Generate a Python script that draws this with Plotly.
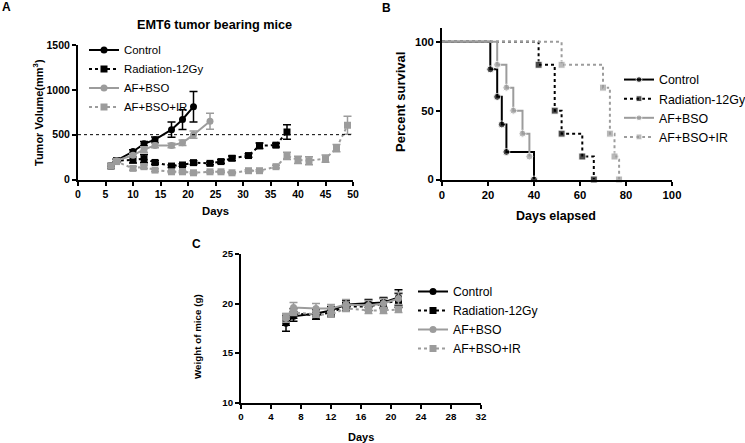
import plotly.graph_objects as go

W, H = 745, 443

# ---------------- Data ----------------
groups = ["Control", "Radiation-12Gy", "AF+BSO", "AF+BSO+IR"]

# Panel A: tumor volume (mm^3)
days_ctrl = [6, 7, 10, 12, 14, 17, 19, 21]
vol_ctrl = [150, 210, 312, 398, 444, 556, 669, 812]
err_ctrl = [15, 15, 20, 25, 30, 85, 110, 170]

days_rad = [6, 7, 10, 12, 14, 17, 19, 21, 24, 26, 28, 31, 33, 36, 38]
vol_rad = [150, 210, 218, 233, 190, 150, 162, 188, 180, 200, 237, 267, 376, 383, 530]
err_rad = [15, 15, 35, 45, 20, 15, 15, 20, 15, 20, 25, 20, 30, 20, 80]

days_afbso = [6, 7, 10, 12, 14, 17, 19, 21, 24]
vol_afbso = [150, 210, 270, 335, 380, 380, 410, 500, 650]
err_afbso = [15, 15, 20, 30, 25, 25, 30, 40, 90]

days_ir = [6, 7, 10, 12, 14, 17, 19, 21, 24, 26, 28, 31, 33, 36, 38, 40, 42, 45, 47, 49]
vol_ir = [150, 200, 124, 143, 105, 86, 86, 75, 86, 86, 75, 98, 98, 143, 263, 218, 210, 233, 350, 605]
err_ir = [15, 15, 20, 20, 15, 10, 10, 10, 10, 10, 10, 10, 10, 15, 40, 40, 45, 40, 40, 100]

threshold_volume = 500

# Panel B: Kaplan-Meier survival (%)
surv_days_ctrl = [0, 21, 24, 26, 28, 40]
surv_ctrl = [100, 80, 60, 40, 20, 0]
surv_days_rad = [0, 42, 49, 52, 61, 66]
surv_rad = [100, 83.3, 50, 33.3, 16.7, 0]
surv_days_afbso = [0, 24, 28, 31, 35, 38]
surv_afbso = [100, 83.3, 66.7, 50, 33.3, 16.7]
surv_days_ir = [0, 52, 70, 73, 75, 77]
surv_ir = [100, 83.3, 66.7, 33.3, 16.7, 0]

# Panel C: body weight (g)
days_w = [6, 7, 10, 12, 14, 17, 19, 21]
w_ctrl = [18.0, 18.7, 19.0, 19.3, 19.9, 20.0, 20.1, 20.6]
we_ctrl = [0.8, 0.5, 0.4, 0.4, 0.4, 0.4, 0.5, 0.8]
w_rad = [18.3, 19.0, 18.8, 19.1, 19.7, 19.7, 20.0, 20.3]
we_rad = [0.5, 0.5, 0.4, 0.4, 0.4, 0.4, 0.5, 0.7]
w_afbso = [18.5, 19.6, 19.5, 19.5, 19.9, 19.8, 20.0, 20.5]
we_afbso = [0.4, 0.5, 0.5, 0.4, 0.5, 0.5, 0.5, 0.6]
w_ir = [18.7, 19.1, 18.9, 18.9, 19.5, 19.3, 19.3, 19.4]
we_ir = [0.3, 0.3, 0.3, 0.3, 0.3, 0.3, 0.3, 0.3]

# ---------------- Styles ----------------
BLACK = "#000000"
GRAY = "#9c9c9c"
FONT = "Liberation Sans, Arial, sans-serif"
styles = {
    "Control": dict(color=BLACK, dash="solid", symbol="circle"),
    "Radiation-12Gy": dict(color=BLACK, dash="dot", symbol="square"),
    "AF+BSO": dict(color=GRAY, dash="solid", symbol="circle"),
    "AF+BSO+IR": dict(color=GRAY, dash="dot", symbol="square"),
}

fig = go.Figure()


def err_trace(name, x, y, e, xa, ya, legend):
    s = styles[name]
    return go.Scatter(
        x=x, y=y, mode="lines+markers", name=name,
        xaxis=xa, yaxis=ya, legend=legend, showlegend=True,
        legendgroup=legend + name,
        line=dict(color=s["color"], dash=s["dash"], width=2),
        marker=dict(color=s["color"], symbol=s["symbol"], size=7),
        error_y=dict(type="data", array=e, visible=True, color=s["color"],
                     thickness=1.5, width=4),
        cliponaxis=False,
    )


# Panel A
for name, x, y, e in [("Control", days_ctrl, vol_ctrl, err_ctrl),
                      ("Radiation-12Gy", days_rad, vol_rad, err_rad),
                      ("AF+BSO", days_afbso, vol_afbso, err_afbso),
                      ("AF+BSO+IR", days_ir, vol_ir, err_ir)]:
    fig.add_trace(err_trace(name, x, y, e, "x", "y", "legend"))

# Panel B
for name, x, y in [("Control", surv_days_ctrl, surv_ctrl),
                   ("Radiation-12Gy", surv_days_rad, surv_rad),
                   ("AF+BSO", surv_days_afbso, surv_afbso),
                   ("AF+BSO+IR", surv_days_ir, surv_ir)]:
    s = styles[name]
    sizes = [0] + [7] * (len(x) - 1)
    fig.add_trace(go.Scatter(
        x=x, y=y, mode="lines+markers", name=name, xaxis="x2", yaxis="y2",
        legend="legend2", legendgroup="b" + name,
        line=dict(color=s["color"], dash=s["dash"], width=2, shape="hv"),
        marker=dict(color=s["color"], symbol=s["symbol"], size=sizes),
        cliponaxis=False,
    ))

# Panel C
for name, y, e in [("Control", w_ctrl, we_ctrl),
                   ("Radiation-12Gy", w_rad, we_rad),
                   ("AF+BSO", w_afbso, we_afbso),
                   ("AF+BSO+IR", w_ir, we_ir)]:
    fig.add_trace(err_trace(name, days_w, y, e, "x3", "y3", "legend3"))


def px_x(p):
    return p / W


def px_y(p):
    return 1 - p / H


def axis_style(fs):
    return dict(showline=True, linewidth=2, linecolor=BLACK, ticks="outside",
                ticklen=4, tickwidth=2, tickcolor=BLACK, showgrid=False,
                zeroline=False, mirror=False,
                tickfont=dict(family=FONT, size=fs, color=BLACK, weight="bold"))


def legend_style(x, y, fs):
    return dict(x=px_x(x), y=px_y(y), xanchor="left", yanchor="top",
                font=dict(family=FONT, size=fs, color=BLACK), bgcolor="rgba(0,0,0,0)",
                itemwidth=30, tracegroupgap=0)


fig.update_layout(
    width=W, height=H, margin=dict(l=0, r=0, t=0, b=0, autoexpand=False),
    paper_bgcolor="white", plot_bgcolor="white",
    font=dict(family=FONT, color=BLACK),
    xaxis=dict(domain=[px_x(78), px_x(353)], range=[0, 50], tickvals=list(range(0, 51, 5)),
               anchor="y", **axis_style(10.5)),
    yaxis=dict(domain=[px_y(179.5), px_y(45)], range=[0, 1500], tickvals=[0, 500, 1000, 1500],
               anchor="x", **axis_style(10.5)),
    xaxis2=dict(domain=[px_x(442), px_x(672)], range=[0, 100], tickvals=list(range(0, 101, 20)),
                anchor="y2", **axis_style(11.3)),
    yaxis2=dict(domain=[px_y(179.5), px_y(28)], range=[0, 110], tickvals=[0, 50, 100],
                anchor="x2", **axis_style(11.3)),
    xaxis3=dict(domain=[px_x(241), px_x(481)], range=[0, 32], tickvals=list(range(0, 33, 4)),
                anchor="y3", **axis_style(9.7)),
    yaxis3=dict(domain=[px_y(402.5), px_y(254)], range=[10, 25], tickvals=[10, 15, 20, 25],
                anchor="x3", **axis_style(9.7)),
    legend=legend_style(84, 35.5, 11.4),
    legend2=legend_style(619, 65, 12.4),
    legend3=legend_style(413, 277, 12.2),
    showlegend=True,
)

# threshold line in panel A
fig.add_shape(type="line", xref="x", yref="y", x0=0, x1=50, y0=threshold_volume,
              y1=threshold_volume, line=dict(color=BLACK, width=1, dash="dot"))

bold = dict(family=FONT, color=BLACK, weight="bold")
annots = [
    dict(text="A", x=6, y=7, size=12),
    dict(text="B", x=386, y=8, size=12),
    dict(text="C", x=196, y=244, size=12),
    dict(text="EMT6 tumor bearing mice", x=214, y=25, size=12.7),
    dict(text="Days", x=215, y=211, size=11.3),
    dict(text="Tumor Volume(mm<sup>3</sup>)", x=38, y=113, size=11, angle=-90),
    dict(text="Days elapsed", x=556, y=216, size=12.5),
    dict(text="Percent survival", x=400, y=102, size=13, angle=-90),
    dict(text="Days", x=361, y=437, size=11),
    dict(text="Weight of mice (g)", x=197, y=337, size=9.8, angle=-90),
]
for a in annots:
    fig.add_annotation(text=a["text"], x=px_x(a["x"]), y=px_y(a["y"]), xref="paper", yref="paper",
                       xanchor="center", yanchor="middle", showarrow=False,
                       textangle=a.get("angle", 0), font=dict(size=a["size"], **bold))

fig.write_html("out.html", config={"displayModeBar": False},
               post_script="document.body.style.margin='0';document.body.style.padding='0';")
